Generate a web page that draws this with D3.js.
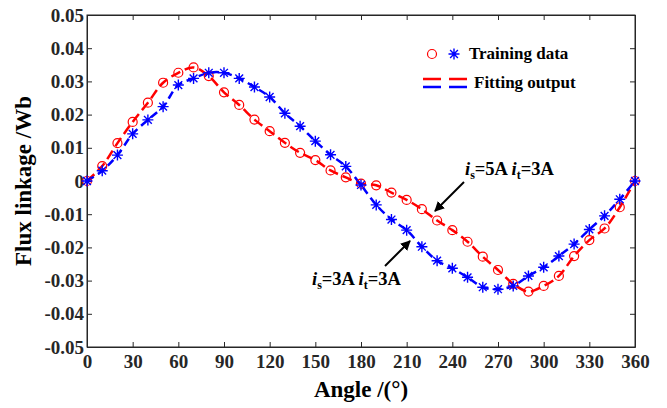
<!DOCTYPE html>
<html>
<head>
<meta charset="utf-8">
<script src="https://cdn.jsdelivr.net/npm/d3@7"></script>
<style>
  body { margin: 0; background: #fff; }
  text { font-family: "Liberation Serif", "Times New Roman", serif; font-weight: bold; }
</style>
</head>
<body>
<div class="chart"></div>
<script>
// angle samples (deg)
var angles = [0, 10, 20, 30, 40, 50, 60, 70, 80, 90, 100, 110, 120, 130, 140, 150, 160, 170, 180,
  190, 200, 210, 220, 230, 240, 250, 260, 270, 280, 290, 300, 310, 320, 330, 340, 350, 360];

// is=5A it=3A  (red)
var flux5A = [0, 0.0045, 0.0114, 0.0178, 0.0236, 0.0296, 0.0326, 0.0342, 0.0316, 0.0267, 0.0229,
  0.0185, 0.0150, 0.0115, 0.0085, 0.0063, 0.0032, 0.0011, -0.0008, -0.0013, -0.0035, -0.0057,
  -0.0085, -0.0119, -0.0148, -0.0183, -0.0228, -0.0268, -0.0310, -0.0333, -0.0316, -0.0286,
  -0.0226, -0.0178, -0.0143, -0.0079, 0];

// is=3A it=3A  (blue)
var flux3A = [0, 0.0031, 0.0078, 0.0142, 0.0184, 0.0224, 0.0289, 0.0309, 0.0326, 0.0326, 0.0309,
  0.0283, 0.0253, 0.0204, 0.0165, 0.0120, 0.0079, 0.0044, -0.0012, -0.0072, -0.0116, -0.0148,
  -0.0198, -0.0240, -0.0263, -0.0290, -0.0320, -0.0326, -0.0316, -0.0286, -0.0260, -0.0226,
  -0.0190, -0.0146, -0.0105, -0.0055, 0];

var xTicks = [0, 30, 60, 90, 120, 150, 180, 210, 240, 270, 300, 330, 360];
var yTicks = [-0.05, -0.04, -0.03, -0.02, -0.01, 0, 0.01, 0.02, 0.03, 0.04, 0.05];

var margin = { top: 15, right: 32, bottom: 61, left: 87 };
var width = 667 - margin.left - margin.right,
  height = 408 - margin.top - margin.bottom;

var red = "#ff0000", blue = "#0000ff", axisCol = "#262626";

var x = d3.scaleLinear().domain([0, 360]).range([0, width]);
var y = d3.scaleLinear().domain([-0.05, 0.05]).range([height, 0]);

var svg = d3.select(".chart").append("svg")
  .attr("width", 667)
  .attr("height", 408);

var chart = svg.append("g")
  .attr("transform", "translate(" + margin.left + "," + margin.top + ")");

function fmt(d) { return d === 0 ? "0" : d3.format(".2f")(d).replace("−", "-"); }

// axes (ticks inside, mirrored on top/right)
var gx = chart.append("g")
  .attr("transform", "translate(0," + height + ")")
  .call(d3.axisBottom(x).tickValues(xTicks).tickSizeInner(-5).tickSizeOuter(0).tickPadding(8));
chart.append("g")
  .call(d3.axisTop(x).tickValues(xTicks).tickSizeInner(-5).tickSizeOuter(0).tickFormat(""));
var gy = chart.append("g")
  .call(d3.axisLeft(y).tickValues(yTicks).tickSizeInner(-5).tickSizeOuter(0).tickPadding(3).tickFormat(fmt));
chart.append("g")
  .attr("transform", "translate(" + width + ",0)")
  .call(d3.axisRight(y).tickValues(yTicks).tickSizeInner(-5).tickSizeOuter(0).tickFormat(""));

chart.selectAll("g").attr("font-family", null).attr("font-size", null);
chart.selectAll(".domain").attr("stroke", axisCol);
chart.selectAll(".tick line").attr("stroke", axisCol);
chart.selectAll(".tick text")
  .attr("fill", axisCol)
  .style("font-size", "19px");
gx.selectAll(".tick text").attr("dy", "0.71em");

// frame
chart.append("rect")
  .attr("width", width).attr("height", height)
  .attr("fill", "none").attr("stroke", axisCol).attr("stroke-width", 1);

// axis titles
svg.append("text")
  .attr("x", margin.left + width / 2).attr("y", 397)
  .attr("text-anchor", "middle")
  .style("font-size", "23px")
  .text("Angle /(°)");

svg.append("text")
  .attr("transform", "translate(31," + (margin.top + height / 2) + ") rotate(-90)")
  .attr("text-anchor", "middle")
  .style("font-size", "23px")
  .text("Flux linkage /Wb");

var line = d3.line()
  .x(function(d) { return x(d[0]); })
  .y(function(d) { return y(d[1]); })
  .curve(d3.curveCatmullRom);

var data5 = angles.map(function(a, i) { return [a, flux5A[i]]; });
var data3 = angles.map(function(a, i) { return [a, flux3A[i]]; });

// fitting output
chart.append("path").datum(data5)
  .attr("d", line)
  .attr("fill", "none").attr("stroke", red)
  .attr("stroke-width", 2.5).attr("stroke-dasharray", "10,5");

chart.append("path").datum(data3)
  .attr("d", line)
  .attr("fill", "none").attr("stroke", blue)
  .attr("stroke-width", 2.5).attr("stroke-dasharray", "8,5");

// training data
chart.selectAll(".pt5").data(data5).enter().append("circle")
  .attr("class", "pt5")
  .attr("cx", function(d) { return x(d[0]); })
  .attr("cy", function(d) { return y(d[1]); })
  .attr("r", 4.5)
  .attr("fill", "none").attr("stroke", red).attr("stroke-width", 1.2);

function starPath(s) {
  var a = s * 0.7071;
  return "M" + (-s) + ",0L" + s + ",0M0," + (-s) + "L0," + s +
    "M" + (-a) + "," + (-a) + "L" + a + "," + a + "M" + (-a) + "," + a + "L" + a + "," + (-a);
}

chart.selectAll(".pt3").data(data3).enter().append("path")
  .attr("class", "pt3")
  .attr("transform", function(d) { return "translate(" + x(d[0]) + "," + y(d[1]) + ")"; })
  .attr("d", starPath(5.5))
  .attr("fill", "none").attr("stroke", blue).attr("stroke-width", 1.4);

// legend
var leg = svg.append("g");
leg.append("circle").attr("cx", 432).attr("cy", 54).attr("r", 4.5)
  .attr("fill", "none").attr("stroke", red).attr("stroke-width", 1.2);
leg.append("path").attr("transform", "translate(454,54)").attr("d", starPath(5.5))
  .attr("fill", "none").attr("stroke", blue).attr("stroke-width", 1.4);
leg.append("text").attr("x", 469).attr("y", 59).style("font-size", "17px").text("Training data");

leg.append("line").attr("x1", 423).attr("x2", 467).attr("y1", 79).attr("y2", 79)
  .attr("stroke", red).attr("stroke-width", 2.5).attr("stroke-dasharray", "18,8");
leg.append("line").attr("x1", 423).attr("x2", 467).attr("y1", 87).attr("y2", 87)
  .attr("stroke", blue).attr("stroke-width", 2.5).attr("stroke-dasharray", "18,8");
leg.append("text").attr("x", 474).attr("y", 88).style("font-size", "17px").text("Fitting output");

// annotations
svg.append("defs").append("marker")
  .attr("id", "arrow")
  .attr("viewBox", "0 0 10 10")
  .attr("refX", 9).attr("refY", 5)
  .attr("markerWidth", 5).attr("markerHeight", 5)
  .attr("orient", "auto")
  .append("path").attr("d", "M0,0L10,5L0,10z").attr("fill", "#000");

function label(xp, yp, s, t) {
  var txt = svg.append("text").attr("x", xp).attr("y", yp).style("font-size", "18.5px");
  txt.append("tspan").style("font-style", "italic").text("i");
  txt.append("tspan").attr("dy", 4).style("font-size", "12px").text(s);
  txt.append("tspan").attr("dy", -4).text("=" + t[0] + " ");
  txt.append("tspan").style("font-style", "italic").text("i");
  txt.append("tspan").attr("dy", 4).style("font-size", "12px").text("t");
  txt.append("tspan").attr("dy", -4).text("=" + t[1]);
}

label(465, 175, "s", ["5A", "3A"]);
label(312, 285, "s", ["3A", "3A"]);

svg.append("line").attr("x1", 464).attr("y1", 182).attr("x2", 435).attr("y2", 211)
  .attr("stroke", "#000").attr("stroke-width", 2).attr("marker-end", "url(#arrow)");
svg.append("line").attr("x1", 385).attr("y1", 266).attr("x2", 410).attr("y2", 241)
  .attr("stroke", "#000").attr("stroke-width", 2).attr("marker-end", "url(#arrow)");
</script>
</body>
</html>
